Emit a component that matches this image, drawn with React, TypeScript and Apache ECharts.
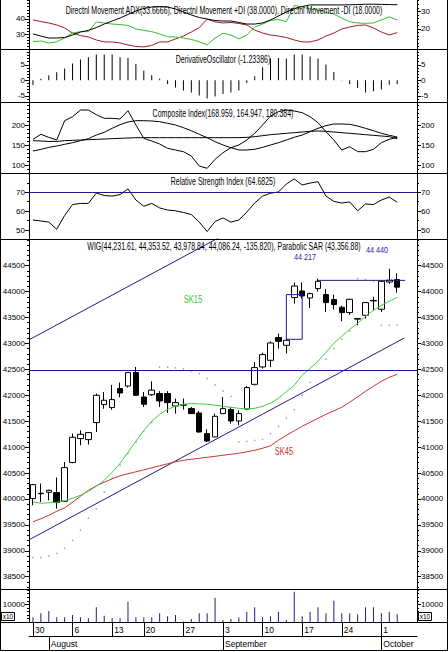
import React, { useEffect, useRef } from 'react';
import * as echarts from 'echarts';

// ---------- data ----------
const dates = ['2012-07-30','2012-07-31','2012-08-01','2012-08-02','2012-08-03','2012-08-06','2012-08-07','2012-08-08','2012-08-09','2012-08-10','2012-08-13','2012-08-14','2012-08-16','2012-08-17','2012-08-20','2012-08-21','2012-08-22','2012-08-23','2012-08-24','2012-08-27','2012-08-28','2012-08-29','2012-08-30','2012-08-31','2012-09-03','2012-09-04','2012-09-05','2012-09-06','2012-09-07','2012-09-10','2012-09-11','2012-09-12','2012-09-13','2012-09-14','2012-09-17','2012-09-18','2012-09-19','2012-09-20','2012-09-21','2012-09-24','2012-09-25','2012-09-26','2012-09-27','2012-09-28','2012-10-01','2012-10-02','2012-10-03'];
const monthNames = ['January','February','March','April','May','June','July','August','September','October','November','December'];

const openP = [40007,40110,40129,40123,39955,40702,41165,41145,41473,41820,41763,42129,42179,42438,41967,42010,42033,42033,41794,41820,41743,41659,41261,41196,41647,41724,41504,41736,42212,42546,42675,43113,42964,43885,44012,43877,44058,43942,43846,43698,43595,43480,43543,43830,43660,44186,44231.61];
const highP = [40290,40297,40180,40413,40713,41261,41325,41290,42033,42064,42200,42245,42450,42546,42064,42270,42080,42080,41936,41936,41774,41697,41344,41647,41967,41774,41711,42180,42642,42824,43041,43190,43100,44174,44174,43980,44251,44050,43942,43730,43860,43490,43800,43900,44210,44440,44353.52];
const lowP = [39878,39942,39975,39814,39950,40690,41035,41050,41292,41740,41720,41961,42150,41990,41774,41990,41774,41659,41647,41724,41640,41280,41100,41190,41640,41454,41421,41711,42190,42520,42546,42900,42804,43769,43865,43683,44000,43607,43653,43428,43550,43350,43480,43640,43607,44150,43978.84];
const closeP = [40277,40100,40167,39930,40605,41190,41248,41280,42000,41904,41917,42044,42438,42000,41826,42100,41890,41859,41859,41810,41647,41292,41118,41595,41743,41504,41647,42149,42534,42785,43009,43041,43061,44108,43916,43962,44199,43788,43750,43595,43852,43470,43788,43820,44199,44222,44086.24];
const volume = [2650,4900,6200,2650,2650,3950,2650,2100,8300,3550,2100,2100,11500,2650,2650,2650,4900,3200,3950,300,1700,4900,4900,13700,1100,1700,2650,5800,8300,2650,3200,5800,1100,17100,3200,5800,8300,4900,12000,4900,4900,4400,8300,8300,4900,5800,4400];
const sk15 = [39942,39917,39926,39936,39965,40013,40071,40148,40245,40360,40515,40688,40900,41113,41325,41498,41633,41730,41788,41826,41840,41836,41826,41807,41788,41768,41749,41736,41749,41788,41846,41942,42070,42193,42386,42521,42656,42829,43003,43138,43273,43389,43524,43640,43736,43813,43890];
const sk45 = [39560,39618,39685,39762,39830,39936,40052,40167,40254,40322,40389,40447,40486,40524,40563,40601,40640,40679,40717,40746,40765,40785,40804,40823,40843,40862,40881,40910,40939,40978,41026,41132,41228,41315,41402,41479,41556,41633,41701,41769,41865,41971,42077,42174,42270,42347,42405];
const sar = [38870,38870,38900,38950,39050,39200,39400,39630,39810,40135,40400,40650,40880,41100,41300,41480,42546,42540,42530,42510,42470,42420,42320,42200,42080,41980,41100,41110,41130,41150,41260,41400,41560,41720,42000,42250,42480,42700,42900,43080,43240,44251,44230,44200,43350,43352,43357];
const adx = [17.2,16.0,14.9,14.9,15.2,16.6,18.3,19.2,20.8,22.8,24.5,26.2,28.2,30.2,31.6,32.4,32.7,32.4,31.3,29.6,27.9,26.5,25.6,24.8,24.5,24.5,23.7,22.8,22.8,23.4,25.1,27.3,29.6,31.6,32.7,33.6,33.6,33.6,33.6,33.6,33.7,33.8,34.0,34.0,33.9,33.8,33.7];
const plusDI = [12.9,13.2,12.1,12.8,14.9,17.7,18.5,18.5,24.0,23.4,22.8,22.5,22.0,20.0,19.2,18.5,17.2,15.6,15.5,14.9,14.1,12.8,11.0,14.9,17.6,16.6,14.4,16.6,21.1,22.8,24.8,25.4,24.1,33.3,32.4,31.3,30.7,29.3,28.5,26.2,24.1,23.4,23.2,23.4,25.1,26.9,25.1];
const minusDI = [25.1,24.2,23.4,22.3,20.6,17.7,16.3,15.5,13.8,12.7,12.7,12.1,11.0,10.1,9.9,10.7,12.7,12.7,14.4,16.0,18.3,20.8,25.6,24.0,23.4,23.7,23.1,22.3,19.4,17.7,16.6,16.0,15.2,13.8,12.7,12.7,13.8,16.0,17.7,20.0,21.1,22.0,22.3,20.6,18.3,16.6,18.0];
const derivOsc = [-1.5,0.5,1.6,2.6,3.8,5.4,6.7,7.4,8.3,8.3,8.3,7.4,7.2,5.3,3.1,1.6,0.5,-1.2,-2.3,-3.3,-3.9,-4.9,-5.9,-5.2,-4.4,-3.9,-3.3,-0.9,1.3,4.2,7.0,7.2,7.0,8.3,8.3,7.7,7.0,5.1,2.7,0.1,-1.2,-2.5,-3.9,-3.5,-3.0,-1.4,-1.23];
const compIndex = [164.2,176.7,169.2,162.5,210.8,220.8,237.5,237.5,225.8,216.7,216.7,215,235.8,200,166.7,160,152.5,141.7,137.5,133.3,122.5,97.5,91.7,114.2,130.8,143.3,150,162.5,179.2,200,222.5,233.3,237.5,235,230.8,220.8,205.8,183.3,162.5,137.5,145.8,133.3,133.3,139.2,155.8,164.2,169.0];
const compMaFast = [135,139,144,147.5,151.7,155.8,160.8,165.8,175,181.7,191.7,200.8,207.5,210.8,210.8,210,208.3,204.2,200,193.3,185.8,176.7,168.3,158.3,150,143.3,137.5,137.5,139.2,144.2,150,155.8,162.5,169.2,175,183.3,191.7,198.3,202.5,202.5,201.7,197.5,191.7,185.8,179.2,174.2,170];
const compMaSlow = [160.8,160,159,159,160.8,161.7,162.5,163.3,164.2,165,165.8,166.7,167.5,168.3,168.3,168.3,168.3,168.3,168.3,168.3,168.3,168.3,168.3,168.3,168.3,168.3,168.3,169.2,170.8,173.3,175.8,177.5,179.2,180.8,182.5,184.2,185,184.2,182.5,180.8,179.2,177.5,175.8,174.2,172.5,170.8,166];
const rsi = [55.3,54.8,54.2,50.4,57.7,63.5,64.1,64.1,69.6,68.3,68.0,68.8,71.8,65.9,62.6,64.1,61.7,60.6,60.2,59.3,58.2,54.2,49.2,54.5,56.4,54.2,55.3,59.5,64.3,68.0,69.5,70.2,74.4,77.1,73.9,74.9,75.6,68.0,65.2,64.3,64.9,60.2,63.8,63.5,65.9,67.5,64.7];

const trendLower = [[-0.5, 39212], [46.9, 43106]];
const trendUpper = [[-0.5, 43070], [24.5, 45124]];
const gapBox = [[32, 43080], [32, 43942], [34, 43942], [34, 43080], [32, 43080]];
const resistance = [[36, 44217], [47, 44217]];
const supportLevel = 42476;
const rsiLevel = 70;

const dmiLeftTicks = [30, 40];
const dmiRightTicks = [20, 30];
const doTicks = [-5, 0, 5];
const ciTicks = [100, 150, 200];
const rsiTicks = [50, 60, 70];
const priceTicks = [38500, 39000, 39500, 40000, 40500, 41000, 41500, 42000, 42500, 43000, 43500, 44000, 44500];
const volTicks = [10000];

// ---------- layout ----------
const FONT = "'Liberation Sans', Arial, Helvetica, sans-serif";
const NAVY = '#1e1e86';
const GL = 29, GR = 31;
const panels = [
  { top: 0, bottom: 49 },
  { top: 49, bottom: 102 },
  { top: 102, bottom: 173 },
  { top: 173, bottom: 239 },
  { top: 239, bottom: 589 },
  { top: 589, bottom: 622 },
];

const range = (a: number, b: number, s: number) => {
  const out: number[] = [];
  for (let v = a; v <= b + 1e-9; v += s) out.push(Math.round(v * 1000) / 1000);
  return out;
};

const majorAxis = (gridIndex: number, min: number, max: number, ticks: number[], position: string) => ({
  type: 'value', gridIndex, position, min, max,
  axisLine: { show: true, onZero: false, lineStyle: { color: '#000', width: 1 } },
  axisTick: { show: true, inside: false, length: 4, customValues: ticks, lineStyle: { color: '#000', width: 1 } },
  axisLabel: { show: true, customValues: ticks, formatter: (v: number) => String(v), margin: 4, fontSize: 8, color: '#000', fontFamily: FONT },
  splitLine: { show: false },
});
const minorAxis = (gridIndex: number, min: number, max: number, ticks: number[], position: string) => ({
  type: 'value', gridIndex, position, min, max,
  axisLine: { show: false, onZero: false },
  axisTick: { show: true, inside: false, length: 2, customValues: ticks, lineStyle: { color: '#000', width: 1 } },
  axisLabel: { show: false },
  splitLine: { show: false },
});

export default function App() {
  const ref = useRef<HTMLDivElement>(null);
  useEffect(() => {
    if (!ref.current) return;
    const chart = echarts.init(ref.current, undefined, { renderer: 'svg' });
    const cats = [...dates, '_pad1', '_pad2'];
    const mondays = new Set<number>();
    const monthStarts = new Set<number>();
    dates.forEach((d, i) => {
      if (new Date(d + 'T00:00:00Z').getUTCDay() === 1) mondays.add(i);
      if (i > 0 && d.slice(5, 7) !== dates[i - 1].slice(5, 7)) monthStarts.add(i);
    });

    const scales = [
      { l: [20.4, 52.4, dmiLeftTicks, range(22, 52, 2)], r: [8.7, 36.38, dmiRightTicks, range(10, 36, 2)] },
      { l: [-7, 10.1, doTicks, range(-7, 10, 1)], r: [-7, 10.1, doTicks, range(-7, 10, 1)] },
      { l: [80, 257.5, ciTicks, range(80, 250, 10)], r: [80, 257.5, ciTicks, range(80, 250, 10)] },
      { l: [45.23, 80.24, rsiTicks, range(50, 80, 5)], r: [45.23, 80.24, rsiTicks, range(50, 80, 5)] },
      { l: [38263, 45015, priceTicks, range(38300, 45000, 100)], r: [38263, 45015, priceTicks, range(38300, 45000, 100)] },
      { l: [0, 18644, volTicks, range(0, 18000, 2000)], r: [0, 18644, volTicks, range(0, 18000, 2000)] },
    ];
    const yAxis: any[] = [];
    scales.forEach((s: any, g) => {
      yAxis.push(majorAxis(g, s.l[0], s.l[1], s.l[2], 'left'));
      yAxis.push(majorAxis(g, s.r[0], s.r[1], s.r[2], 'right'));
      yAxis.push(minorAxis(g, s.l[0], s.l[1], s.l[3], 'left'));
      yAxis.push(minorAxis(g, s.r[0], s.r[1], s.r[3], 'right'));
    });

    const xAxis: any[] = panels.map((_, g) => ({
      type: 'category', gridIndex: g, data: cats, boundaryGap: true, show: g === 5,
      axisLine: { show: true, onZero: false, lineStyle: { color: '#000', width: 1 } },
      axisTick: { show: true, alignWithLabel: true, length: 14, interval: (i: number) => mondays.has(i), lineStyle: { color: '#000' } },
      axisLabel: {
        show: true, interval: (i: number) => mondays.has(i),
        formatter: (v: string) => (v.startsWith('_') ? '' : String(Number(v.slice(8)))),
        align: 'left', margin: 3, padding: [0, 0, 0, 2], fontSize: 8.5, color: '#000', fontFamily: FONT,
      },
      splitLine: { show: false },
    }));
    xAxis.push({ type: 'value', gridIndex: 4, min: -0.5, max: cats.length - 0.5, show: false });
    xAxis.push({
      type: 'category', gridIndex: 5, data: cats, boundaryGap: true, position: 'bottom', offset: 14,
      axisLine: { show: true, onZero: false, lineStyle: { color: '#000', width: 1 } },
      axisTick: { show: true, alignWithLabel: true, length: 14, interval: (i: number) => monthStarts.has(i), lineStyle: { color: '#000' } },
      axisLabel: {
        show: true, interval: (i: number) => monthStarts.has(i),
        formatter: (v: string) => (v.startsWith('_') ? '' : monthNames[Number(v.slice(5, 7)) - 1]),
        align: 'left', margin: 3, padding: [0, 0, 0, 2], fontSize: 8.5, color: '#000', fontFamily: FONT,
      },
      splitLine: { show: false },
    });

    const line = (x: number, y: number, data: any, color: string, extra: any = {}) => ({
      type: 'line', xAxisIndex: x, yAxisIndex: y, data, symbol: 'none', silent: true,
      lineStyle: { color, width: 1 }, clip: true, ...extra,
    });

    const series: any[] = [
      line(0, 1, minusDI, '#a01c1c'),
      line(0, 1, plusDI, '#2fbf2f'),
      line(0, 1, adx, '#000'),
      { type: 'bar', xAxisIndex: 1, yAxisIndex: 4, data: derivOsc, barWidth: 1, itemStyle: { color: '#000' }, silent: true },
      line(2, 8, compMaSlow, '#000'),
      line(2, 8, compMaFast, '#000'),
      line(2, 8, compIndex, '#000'),
      line(3, 12, rsi, '#000', {
        markLine: { silent: true, symbol: ['none', 'none'], label: { show: false }, lineStyle: { color: NAVY, width: 1, type: 'solid' }, data: [{ yAxis: rsiLevel }] },
      }),
      line(6, 16, trendLower, NAVY),
      line(6, 16, trendUpper, NAVY),
      line(6, 16, gapBox, NAVY),
      line(6, 16, resistance, NAVY),
      line(4, 16, sk45, '#cc3333'),
      line(4, 16, sk15, '#3ccf3c'),
      { type: 'scatter', xAxisIndex: 4, yAxisIndex: 16, data: sar.map((v, i) => [i, v]), symbolSize: 1.6, itemStyle: { color: '#8c8c8c' }, silent: true },
      {
        type: 'candlestick', xAxisIndex: 4, yAxisIndex: 16, barWidth: 6, silent: true,
        data: openP.map((o, i) => [o, closeP[i], lowP[i], highP[i]]),
        itemStyle: { color: '#fff', color0: '#000', borderColor: '#000', borderColor0: '#000', borderWidth: 1 },
        markLine: { silent: true, symbol: ['none', 'none'], label: { show: false }, lineStyle: { color: NAVY, width: 1, type: 'solid' }, data: [{ yAxis: supportLevel }] },
      },
      { type: 'bar', xAxisIndex: 5, yAxisIndex: 20, data: volume, barWidth: 1, itemStyle: { color: NAVY }, silent: true },
    ];

    const txt = (text: string, x: number, y: number, fill = '#000', fontSize = 10, scaleX = 0.7) => ({
      type: 'text', x, y, scaleX, silent: true, z: 100,
      style: { text, fill, fontSize, fontFamily: FONT, align: 'center', verticalAlign: 'middle', textAlign: 'center', textVerticalAlign: 'middle' },
    });
    const hline = (y: number, x1 = 0, x2 = 448) => ({ type: 'line', silent: true, z: 50, shape: { x1, y1: y + 0.5, x2, y2: y + 0.5 }, style: { stroke: '#000', lineWidth: 1 } });
    const graphic: any[] = [
      { type: 'line', silent: true, shape: { x1: 0.5, y1: 0, x2: 0.5, y2: 651 }, style: { stroke: '#000', lineWidth: 1 } },
      { type: 'line', silent: true, shape: { x1: 447.5, y1: 0, x2: 447.5, y2: 651 }, style: { stroke: '#000', lineWidth: 1 } },
      hline(650),
      ...[49, 102, 173, 239, 589, 622].map((y) => hline(y)),
      txt('Directnl Movement ADX(33.6666), Directnl Movement +DI (38.0000), Directnl Movement -DI (18.0000)', 224, 11),
      txt('DerivativeOscillator (-1.23386)', 223, 60),
      txt('Composite Index(168.959, 164.947, 180.384)', 223, 114),
      txt('Relative Strength Index (64.6825)', 223, 182),
      txt('WIG(44,231.61, 44,353.52, 43,978.84, 44,086.24, -135.820), Parabolic SAR (43,356.88)', 224, 247),
      txt('44 217', 305, 257, '#2424a8', 9, 0.8),
      txt('44 440', 377, 250, '#2424a8', 9, 0.8),
      txt('SK15', 193, 300, '#33cc33', 10, 0.75),
      txt('SK45', 284, 452, '#cc3333', 10, 0.75),
      { type: 'rect', silent: true, shape: { x: 1.5, y: 612.5, width: 13, height: 8 }, style: { fill: 'none', stroke: '#000', lineWidth: 1 } },
      txt('x10', 8, 616.5, '#000', 8, 0.8),
      { type: 'rect', silent: true, shape: { x: 418.5, y: 612.5, width: 13, height: 8 }, style: { fill: 'none', stroke: '#000', lineWidth: 1 } },
      txt('x10', 425, 616.5, '#000', 8, 0.8),
    ];

    chart.setOption({
      animation: false,
      backgroundColor: '#fff',
      grid: panels.map((p) => ({ left: GL, right: GR, top: p.top, height: p.bottom - p.top, containLabel: false, outerBoundsMode: 'none' })),
      xAxis,
      yAxis,
      series,
      graphic,
    });
    return () => chart.dispose();
  }, []);
  return <div ref={ref} style={{ position: 'absolute', left: 0, top: 0, width: 448, height: 652, background: '#fff' }} />;
}
